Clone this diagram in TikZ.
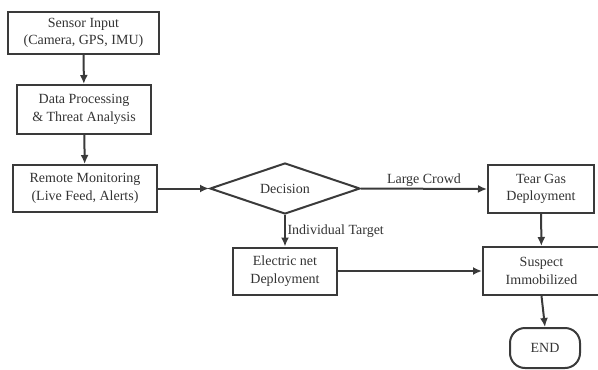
\documentclass[tikz,border=0pt]{standalone}
\usepackage{fontspec}
\setmainfont{Liberation Serif}
\usetikzlibrary{shapes.geometric,arrows.meta}
\definecolor{ln}{HTML}{3A3A3A}
\definecolor{tx}{HTML}{333333}
\tikzset{
  box/.style={draw=ln, line width=2pt, rectangle, align=center, inner sep=0pt, text=tx, font=\fontsize{14}{17.5}\selectfont},
  dec/.style={draw=ln, line width=2pt, diamond, aspect=2.94, inner sep=0pt, text=tx, font=\fontsize{14}{17.5}\selectfont},
  term/.style={draw=ln, line width=2pt, rectangle, rounded corners=15pt, align=center, inner sep=0pt, text=tx, font=\fontsize{14}{17.5}\selectfont},
  arr/.style={draw=ln, line width=2pt, -{Latex[length=9pt,width=8pt]}},
  lbl/.style={text=tx, font=\fontsize{14}{17}\selectfont, inner sep=1.5pt}
}
\begin{document}
\begin{tikzpicture}[x=1pt,y=-1pt]
\useasboundingbox (0,0) rectangle (598,370);
\node[box, minimum width=151pt, minimum height=42pt] (s) at (83.5,33) {Sensor Input\\(Camera, GPS, IMU)};
\node[box, minimum width=134pt, minimum height=49pt] (d) at (84,109.5) {Data Processing\\\& Threat Analysis};
\node[box, minimum width=144pt, minimum height=47pt] (r) at (85,188.5) {Remote Monitoring\\(Live Feed, Alerts)};
\node[dec, minimum width=150pt, minimum height=51pt] (q) at (285,188.5) {Decision};
\node[box, minimum width=104pt, minimum height=47pt] (e) at (285,271) {Electric net\\Deployment};
\node[box, minimum width=106pt, minimum height=48pt] (t) at (541,189) {Tear Gas\\Deployment};
\node[box, minimum width=117pt, minimum height=48pt] (m) at (541.5,271) {Suspect\\Immobilized};
\node[term, minimum width=70pt, minimum height=40pt] (end) at (545,348) {END};
\draw[arr] (s) -- (d);
\draw[arr] (d) -- (r);
\draw[arr] (r) -- (q.west);
\draw[arr] (q.east) -- node[lbl, above] {Large Crowd} (t.west);
\draw[arr] (q.south) -- node[lbl, right, pos=0.5] {Individual Target} (e.north);
\draw[arr] (t) -- (m);
\draw[arr] (e.east) -- (m.west);
\draw[arr] (m.south) -- (end.north);
\end{tikzpicture}
\end{document}
